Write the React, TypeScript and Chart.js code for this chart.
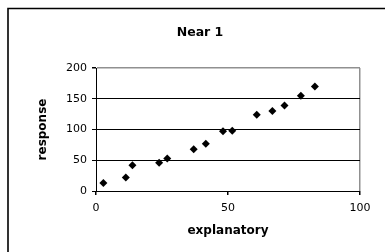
import React, { useEffect, useRef } from "react";
import { Chart, registerables } from "chart.js";

Chart.register(...registerables);

const chartTitle = "Near 1";
const xTitle = "explanatory";
const yTitle = "response";
const xValues = [2.8, 11.3, 13.8, 23.9, 27, 37, 41.6, 48.1, 51.6, 60.9, 66.8, 71.4, 77.6, 82.9];
const yValues = [13, 22, 42, 46, 53, 68, 77, 97, 98, 124, 130, 139, 155, 170];
const xTicks = [0, 50, 100];
const yTicks = [0, 50, 100, 150, 200];

const frameAndTitle = {
  id: "frameAndTitle",
  afterDraw(chart: any) {
    const ctx = chart.ctx;
    ctx.save();
    ctx.strokeStyle = "#000";
    ctx.lineWidth = 1.6;
    ctx.beginPath();
    ctx.moveTo(8, 260);
    ctx.lineTo(8, 8.5);
    ctx.lineTo(390, 8.5);
    ctx.stroke();
    ctx.fillStyle = "#000";
    ctx.font = "bold 12.5px 'DejaVu Sans'";
    ctx.textAlign = "center";
    ctx.textBaseline = "middle";
    ctx.fillText(chartTitle, 200, 33);
    ctx.restore();
  },
};

export default function App() {
  const ref = useRef<HTMLCanvasElement>(null);
  useEffect(() => {
    if (!ref.current) return;
    const data = xValues.map((x, i) => ({ x, y: yValues[i] }));
    const chart = new Chart(ref.current, {
      type: "scatter",
      data: {
        datasets: [
          {
            data,
            pointStyle: "rectRot",
            pointRadius: 4,
            backgroundColor: "#000",
            borderColor: "#000",
            borderWidth: 0,
          },
        ],
      },
      options: {
        animation: false,
        responsive: false,
        devicePixelRatio: 1,
        layout: { padding: { top: 68, right: 25, left: 0, bottom: 0 } },
        plugins: { legend: { display: false }, tooltip: { enabled: false }, title: { display: false } },
        scales: {
          x: {
            type: "linear",
            min: 0,
            max: 100,
            afterBuildTicks: (s: any) => {
              s.ticks = xTicks.map((v) => ({ value: v }));
            },
            afterFit: (s: any) => {
              s.height = 61;
            },
            ticks: {
              color: "#000",
              font: { family: "'DejaVu Sans'", size: 11 },
              padding: 7,
              maxRotation: 0,
            },
            grid: {
              color: (c: any) => (c.tick && c.tick.value === 100 ? "#909090" : "rgba(0,0,0,0)"),
              tickColor: "#000",
              tickLength: 4,
              lineWidth: 1.5,
            },
            border: { color: "#000", width: 1 },
            title: {
              display: true,
              text: xTitle,
              color: "#000",
              font: { family: "'DejaVu Sans'", size: 12, weight: "bold" },
              padding: { top: 0, bottom: 14 },
            },
          },
          y: {
            type: "linear",
            min: 0,
            max: 200,
            afterBuildTicks: (s: any) => {
              s.ticks = yTicks.map((v) => ({ value: v }));
            },
            afterFit: (s: any) => {
              s.width = 96;
            },
            ticks: {
              color: "#000",
              font: { family: "'DejaVu Sans'", size: 11 },
              padding: 5,
            },
            grid: {
              color: (c: any) => (c.tick && c.tick.value === 200 ? "#909090" : "#000"),
              tickColor: "#000",
              tickLength: 4,
              lineWidth: (c: any) => (c.tick && c.tick.value === 200 ? 1.5 : 1),
            },
            border: { color: "#000", width: 1 },
            title: {
              display: true,
              text: yTitle,
              color: "#000",
              font: { family: "'DejaVu Sans'", size: 12, weight: "bold" },
              padding: { top: 36, bottom: 0 },
            },
          },
        },
      },
      plugins: [frameAndTitle],
    });
    return () => chart.destroy();
  }, []);
  return (
    <div style={{ position: "fixed", left: 0, top: 0, width: 385, height: 252, background: "#fff" }}>
      <canvas ref={ref} width={385} height={252} style={{ display: "block", width: 385, height: 252 }} />
    </div>
  );
}
